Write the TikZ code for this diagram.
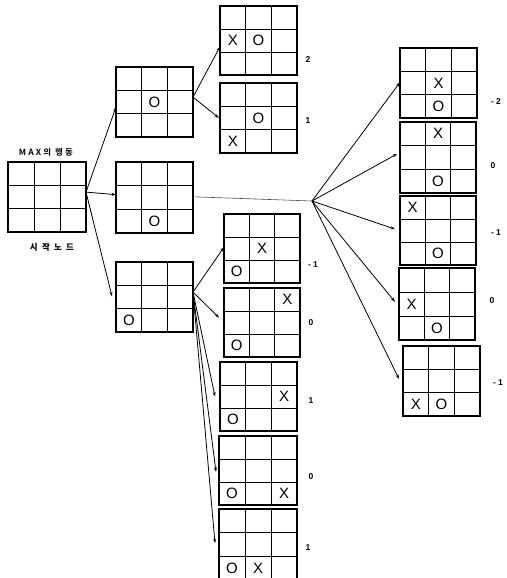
\documentclass[tikz,border=0pt]{standalone}
\usepackage{fontspec}
\setmainfont{Liberation Sans}
\newfontfamily\krA[LetterSpace=25,BoldFont={* Bold}]{Noto Sans CJK KR}
\newfontfamily\krB[LetterSpace=50]{Noto Sans CJK KR}
\usetikzlibrary{calc,arrows.meta}
\tikzset{
  boardbox/.style={draw=black, line width=1.7pt, rectangle, inner sep=0pt, outer sep=0pt},
  gridline/.style={line width=0.9pt, black},
  markstyle/.style={font=\fontsize{15}{15}\selectfont, inner sep=0pt},
  valstyle/.style={font=\bfseries\fontsize{8.5}{8.5}\selectfont, inner sep=0pt},
  arr/.style={line width=0.8pt, -{Stealth[length=4.5pt,width=3pt]}},
  thinline/.style={line width=0.6pt, black!70},
}
\newcommand\board[5]{%
  \node[boardbox, minimum width={#4pt-#2pt}, minimum height={#5pt-#3pt}] (#1) at ({(#2+#4)/2},{(#3+#5)/2}) {};
  \draw[gridline] ($(#1.north west)!1/3!(#1.north east)$) -- ($(#1.south west)!1/3!(#1.south east)$);
  \draw[gridline] ($(#1.north west)!2/3!(#1.north east)$) -- ($(#1.south west)!2/3!(#1.south east)$);
  \draw[gridline] ($(#1.north west)!1/3!(#1.south west)$) -- ($(#1.north east)!1/3!(#1.south east)$);
  \draw[gridline] ($(#1.north west)!2/3!(#1.south west)$) -- ($(#1.north east)!2/3!(#1.south east)$);
}
\newcommand\cellmark[4]{%
  \path let \p1=(#1.north west), \p2=(#1.south east) in
    node[markstyle] (#1-#2#3) at ({\x1+(#2-0.5)*(\x2-\x1)/3},{\y1+(#3-0.5)*(\y2-\y1)/3}) {#4};
}
\begin{document}
\begin{tikzpicture}[x=1pt,y=-1pt]
\useasboundingbox (0,0) rectangle (506,578);
% boards
\board{S}{8}{162}{86}{232}
\board{A}{116}{67}{193}{137}
\board{B}{116}{162}{193}{233}
\board{C}{116}{262}{193}{332}
\board{A1}{220}{6}{297}{75}
\board{A2}{220}{83}{297}{153}
\board{C1}{224}{214}{300}{283}
\board{C2}{224}{288}{300}{357}
\board{C3}{220}{362}{297}{431}
\board{C4}{219}{436}{297}{505}
\board{C5}{219}{509}{297}{580}
\board{B1}{400}{48}{477}{118}
\board{B2}{400}{122}{476}{193}
\board{B3}{400}{196}{476}{265}
\board{B4}{399}{268}{475}{340}
\board{B5}{403}{346}{480}{416}
% marks
\cellmark{A}{2}{2}{O}
\cellmark{B}{2}{3}{O}
\cellmark{C}{1}{3}{O}
\cellmark{A1}{1}{2}{X}\cellmark{A1}{2}{2}{O}
\cellmark{A2}{2}{2}{O}\cellmark{A2}{1}{3}{X}
\cellmark{C1}{2}{2}{X}\cellmark{C1}{1}{3}{O}
\cellmark{C2}{3}{1}{X}\cellmark{C2}{1}{3}{O}
\cellmark{C3}{3}{2}{X}\cellmark{C3}{1}{3}{O}
\cellmark{C4}{1}{3}{O}\cellmark{C4}{3}{3}{X}
\cellmark{C5}{1}{3}{O}\cellmark{C5}{2}{3}{X}
\cellmark{B1}{2}{2}{X}\cellmark{B1}{2}{3}{O}
\cellmark{B2}{2}{1}{X}\cellmark{B2}{2}{3}{O}
\cellmark{B3}{1}{1}{X}\cellmark{B3}{2}{3}{O}
\cellmark{B4}{1}{2}{X}\cellmark{B4}{2}{3}{O}
\cellmark{B5}{1}{3}{X}\cellmark{B5}{2}{3}{O}
% labels
\node[font=\krA\bfseries\fontsize{8.5}{8.5}\selectfont, inner sep=0pt] (maxlbl) at (46,152) {MAX의 행동};
\node[font=\krB\bfseries\fontsize{8.5}{8.5}\selectfont, inner sep=0pt] (startlbl) at (52,247) {시작노드};
% values
\node[valstyle] (vA1) at (308,60) {2};
\node[valstyle] (vA2) at (308,121) {1};
\node[valstyle] (vC1) at (313,265) {- 1};
\node[valstyle] (vC2) at (311,323) {0};
\node[valstyle] (vC3) at (311,401) {1};
\node[valstyle] (vC4) at (311,477) {0};
\node[valstyle] (vC5) at (308,548) {1};
\node[valstyle] (vB1) at (496,102) {- 2};
\node[valstyle] (vB2) at (493,166) {0};
\node[valstyle] (vB3) at (496,233) {- 1};
\node[valstyle] (vB4) at (492,301) {0};
\node[valstyle] (vB5) at (498,383) {- 1};
% fan points
\coordinate (sOut) at ($(S.north east)!0.43!(S.south east)$);
\coordinate (aOut) at ($(A.north east)!0.43!(A.south east)$);
\coordinate (bOut) at ($(B.north east)!0.49!(B.south east)$);
\coordinate (cOut) at ($(C.north east)!0.43!(C.south east)$);
\coordinate (hub) at (312,201);
% connectors
\draw[arr] (sOut) -- ($(A.north west)!0.57!(A.south west)$);
\draw[arr] (sOut) -- ($(B.north west)!0.46!(B.south west)$);
\draw[arr] (sOut) -- ([xshift=-4pt]$(C.north west)!0.49!(C.south west)$);
\draw[arr] (aOut) -- ($(A1.north west)!0.59!(A1.south west)$);
\draw[arr] (aOut) -- ([xshift=-1pt]$(A2.north west)!0.5!(A2.south west)$);
\draw[thinline] (bOut) -- (hub);
\draw[arr] (hub) -- ($(B1.north west)!0.49!(B1.south west)$);
\draw[arr] (hub) -- ([xshift=-3pt]$(B2.north west)!0.45!(B2.south west)$);
\draw[arr] (hub) -- ([xshift=-5pt]$(B3.north west)!0.48!(B3.south west)$);
\draw[arr] (hub) -- ([xshift=-4pt]$(B4.north west)!0.47!(B4.south west)$);
\draw[arr] (hub) -- ([xshift=-4pt]$(B5.north west)!0.47!(B5.south west)$);
\draw[arr] (cOut) -- ($(C1.north west)!0.48!(C1.south west)$);
\draw[arr] (cOut) -- ([xshift=-5pt]$(C2.north west)!0.43!(C2.south west)$);
\draw[arr] (cOut) -- ([xshift=-5pt]$(C3.north west)!0.5!(C3.south west)$);
\draw[arr] (cOut) -- ([xshift=-3pt]$(C4.north west)!0.52!(C4.south west)$);
\draw[arr] (cOut) -- ([xshift=-4pt]$(C5.north west)!0.48!(C5.south west)$);
\end{tikzpicture}
\end{document}
